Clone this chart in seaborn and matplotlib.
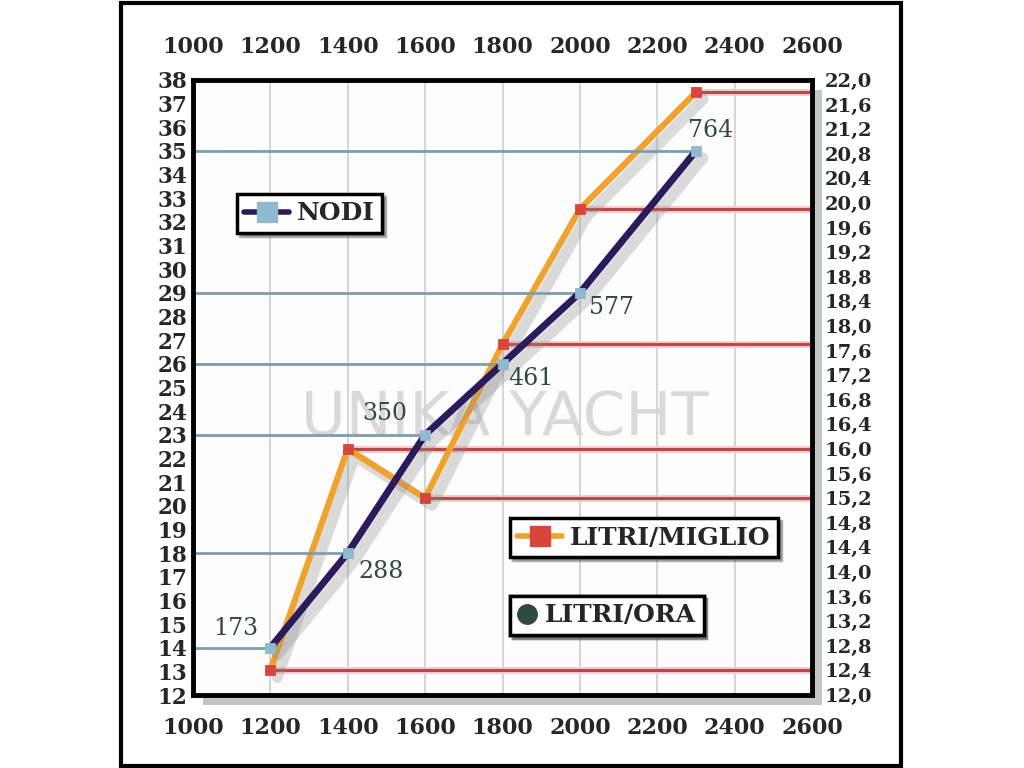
import numpy as np
import pandas as pd
import seaborn as sns
import matplotlib
matplotlib.use("Agg")
import matplotlib.pyplot as plt
from matplotlib.lines import Line2D
from matplotlib.patches import Rectangle
import matplotlib.patheffects as pe

# ---------------- data ----------------
rpm = [1200, 1400, 1600, 1800, 2000, 2300]
nodi = [14, 18, 23, 26, 29, 35]
litri_miglio = [12.4, 16.0, 15.2, 17.7, 19.9, 21.8]
litri_ora = [173, 288, 350, 461, 577, 764]

x_ticks = [1000, 1200, 1400, 1600, 1800, 2000, 2200, 2400, 2600]
left_ticks = list(range(12, 39))
right_ticks = [12.0, 12.4, 12.8, 13.2, 13.6, 14.0, 14.4, 14.8, 15.2, 15.6, 16.0,
               16.4, 16.8, 17.2, 17.6, 18.0, 18.4, 18.8, 19.2, 19.6, 20.0, 20.4,
               20.8, 21.2, 21.6, 22.0]
right_tick_labels = ["12,0", "12,4", "12,8", "13,2", "13,6", "14,0", "14,4", "14,8",
                     "15,2", "15,6", "16,0", "16,4", "16,8", "17,2", "17,6", "18,0",
                     "18,4", "18,8", "19,2", "19,6", "20,0", "20,4", "20,8", "21,2",
                     "21,6", "22,0"]
series_names = ["NODI", "LITRI/MIGLIO", "LITRI/ORA"]

# label offsets (pixels) for the LITRI/ORA annotations
label_offsets = [(-35, 19), (33, -18), (-40, 21), (28, -15), (32, -15), (15, 20)]

# ---------------- style ----------------
sns.set_theme(style="white")
plt.rcParams['font.family'] = ['DejaVu Serif']

NAVY = '#2b1b5c'
LBLUE = '#8fb9cf'
ORANGE = '#f0a22e'
RED = '#d8453a'
BLUEREF = '#7d9db0'
REDREF = '#b8484c'
GREEN = '#2f4a3c'

fig = plt.figure(figsize=(10.24, 7.68), dpi=100)
fig.patch.set_facecolor('white')

L, B, W, H = 193 / 1024, 73 / 768, 619 / 1024, 615 / 768

# drop shadow of the plot frame
fig.patches.append(Rectangle((L + 10 / 1024, B - 10 / 768), W, H,
                             transform=fig.transFigure, facecolor='#8f9c95',
                             alpha=0.55, edgecolor='none', zorder=-1))
# outer frame
fig.patches.append(Rectangle((121 / 1024, 2 / 768), 780 / 1024, 763 / 768,
                             transform=fig.transFigure, fill=False,
                             edgecolor='black', linewidth=3, zorder=5))

ax = fig.add_axes([L, B, W, H])
ax2 = ax.twinx()
ax.set_zorder(ax2.get_zorder() + 1)
ax.patch.set_visible(False)
ax2.patch.set_visible(True)
ax2.patch.set_facecolor('#fdfdfd')

ax.set_xlim(1000, 2600)
ax.set_ylim(12, 38)
ax2.set_ylim(12, 22)

# vertical grid
for xv in x_ticks[1:-1]:
    ax2.axvline(xv, color='#d6d6d6', lw=1.5, zorder=0.3)

# watermark
ax2.text(0.504, 0.45, 'UNIKA YACHT', transform=ax2.transAxes, ha='center', va='center',
         fontsize=44, fontweight='normal', family='DejaVu Sans', color='#d3d3d3',
         alpha=0.85, zorder=0.5)

# reference lines
ax.hlines(nodi, xmin=1000, xmax=rpm, color=BLUEREF, lw=2, zorder=1)
ax2.hlines(litri_miglio, xmin=rpm, xmax=2600, color=REDREF, lw=2.2, zorder=1,
           path_effects=[pe.Stroke(linewidth=5, foreground='#f6cccc'), pe.Normal()])

shadow = [pe.SimpleLineShadow(offset=(5, -5), shadow_color='#8a8a8a', alpha=0.3,
                              linewidth=8), pe.Normal()]

df = pd.DataFrame({'rpm': rpm, 'nodi': nodi, 'lm': litri_miglio, 'lo': litri_ora})

sns.lineplot(data=df, x='rpm', y='lm', ax=ax2, color=ORANGE, lw=4.5, zorder=3,
             path_effects=shadow)
sns.scatterplot(data=df, x='rpm', y='lm', ax=ax2, color=RED, marker='s', s=55,
                edgecolor=RED, zorder=4)
sns.lineplot(data=df, x='rpm', y='nodi', ax=ax, color=NAVY, lw=5, zorder=3,
             path_effects=shadow)
sns.scatterplot(data=df, x='rpm', y='nodi', ax=ax, color=LBLUE, marker='s', s=55,
                edgecolor=LBLUE, zorder=4)

for xv, yv, lab, off in zip(rpm, nodi, litri_ora, label_offsets):
    ax.annotate(str(lab), (xv, yv), xytext=off, textcoords='offset pixels',
                ha='center', va='center', fontsize=17, color=GREEN, zorder=5)

# ticks & labels
ax.set_xticks(x_ticks)
ax.set_xticklabels([str(v) for v in x_ticks])
ax.set_yticks(left_ticks)
ax.set_yticklabels([str(v) for v in left_ticks])
ax2.set_yticks(right_ticks)
ax2.set_yticklabels(right_tick_labels)
ax.tick_params(axis='x', which='both', length=0, pad=16, labelsize=16,
               top=True, labeltop=True, bottom=True, labelbottom=True)
ax.tick_params(axis='y', length=0, pad=4, labelsize=15.5)
ax2.tick_params(axis='y', length=0, pad=9, labelsize=14)
for t in ax.get_xticklabels() + ax.get_yticklabels() + ax2.get_yticklabels():
    t.set_fontweight('bold')
ax.set_xlabel('')
ax.set_ylabel('')
ax2.set_ylabel('')

for s in ax.spines.values():
    s.set_visible(True)
    s.set_color('black')
    s.set_linewidth(3.5)
for s in ax2.spines.values():
    s.set_visible(False)

# legends
prop = dict(family='DejaVu Serif', weight='bold', size=18)
handles = [
    Line2D([], [], color=NAVY, lw=4, marker='s', markersize=14,
           markerfacecolor=LBLUE, markeredgecolor=LBLUE),
    Line2D([], [], color=ORANGE, lw=4, marker='s', markersize=14,
           markerfacecolor=RED, markeredgecolor=RED),
    Line2D([], [], color='none', lw=0, marker='o', markersize=14,
           markerfacecolor=GREEN, markeredgecolor=GREEN),
]
anchors = [(0.071, 0.815), (0.512, 0.287), (0.512, 0.161)]
for h, name, anc in zip(handles, series_names, anchors):
    leg = ax.legend([h], [name], loc='upper left', bbox_to_anchor=anc,
                    frameon=True, fancybox=False,
                    shadow=dict(color='#555555', alpha=0.45),
                    prop=prop, handlelength=1.8 if name != 'LITRI/ORA' else 0.8,
                    borderpad=0.3, handletextpad=0.3, borderaxespad=0)
    fr = leg.get_frame()
    fr.set_edgecolor('black')
    fr.set_linewidth(2.5)
    fr.set_facecolor('white')
    fr.set_alpha(1)
    ax.add_artist(leg)

fig.savefig('out.png', dpi=100)
